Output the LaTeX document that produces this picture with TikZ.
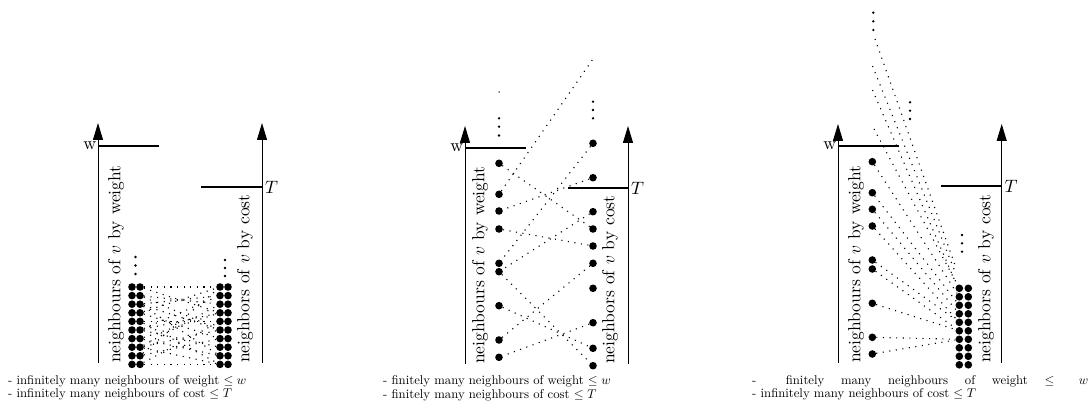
\documentclass[tikz,border=0pt]{standalone}
\usetikzlibrary{arrows.meta}
\begin{document}
\begin{tikzpicture}[x=1pt,y=-1pt,
  axisline/.style={line width=1pt,-{Triangle[length=17pt,width=10pt]}},
  levelbar/.style={line width=2.6pt},
  bigdot/.style={circle,fill=black,inner sep=0pt,minimum size=7.6pt},
  tinydot/.style={circle,fill=black,inner sep=0pt,minimum size=2.6pt},
  nbedge/.style={line width=1.1pt,dash pattern=on 1.1pt off 5.5pt},
  vlabel/.style={rotate=90,anchor=west,inner sep=0pt},
  caption/.style={anchor=base west,inner sep=0pt}]
\useasboundingbox (0,0) rectangle (1090,414);

% ---------------- Panel 1 ----------------
\draw[axisline] (98,363) -- (98,123);
\draw[axisline] (262,363) -- (262,123);
\draw[levelbar] (98,146) -- (159,146);
\draw[levelbar] (201,187) -- (262,187);
\node[anchor=east,inner sep=1pt] (aw) at (97.5,146) {\scalebox{1.79}{w}};
\node[anchor=west,inner sep=1pt] (aT) at (264,187) {\scalebox{1.79}{$T$}};
\node[vlabel] (awt) at (116,363) {\scalebox{1.75}{neighbours of $v$ by weight}};
\node[vlabel] (act) at (245,363) {\scalebox{1.75}{neighbors of $v$ by cost}};
\foreach \i in {1,...,10} {
  \pgfmathsetmacro\yy{287+8.6*(\i-1)}
  \node[bigdot] (al\i) at (132,\yy) {};
  \node[bigdot] (ar\i) at (140,\yy) {};
  \node[bigdot] (bl\i) at (220,\yy) {};
  \node[bigdot] (br\i) at (228,\yy) {};
}
\foreach \i/\yy in {1/257,2/265.5,3/274} \node[tinydot] (ae\i) at (135.5,\yy) {};
\foreach \i/\yy in {1/260,2/268,3/276} \node[tinydot] (be\i) at (225,\yy) {};
\foreach \a/\b in {1/1,1/4,2/6,2/3,3/9,3/2,4/7,4/1,5/10,5/5,6/2,6/8,7/4,7/9,8/6,8/3,9/1,9/7,10/10,10/5,3/6,6/4,8/10}
  \draw[nbedge] (ar\a) -- (bl\b);
\node[caption] (c1a) at (8,384) {\scalebox{1.27}{- infinitely many neighbours of weight $\leq w$}};
\node[caption] (c1b) at (8,397.5) {\scalebox{1.27}{- infinitely many neighbours of cost $\leq T$}};

% ---------------- Panel 2 ----------------
\draw[axisline] (465,364) -- (465,126);
\draw[axisline] (628,364) -- (628,126);
\draw[levelbar] (465,148) -- (526,148);
\draw[levelbar] (568,188) -- (628,188);
\node[anchor=east,inner sep=1pt] (bw) at (464.5,148) {\scalebox{1.79}{w}};
\node[anchor=west,inner sep=1pt] (bT) at (630,188) {\scalebox{1.79}{$T$}};
\node[vlabel] (bwt) at (480,364) {\scalebox{1.75}{neighbours of $v$ by weight}};
\node[vlabel] (bct) at (610,364) {\scalebox{1.75}{neighbors of $v$ by cost}};
\foreach \i/\yy in {1/163.3,2/194.3,3/211,4/229,5/263.3,6/271.7,7/305.7,8/340,9/357.3}
  \node[bigdot] (ml\i) at (499,\yy) {};
\foreach \i/\yy in {1/143.3,2/177.7,3/211.7,4/229,5/246,6/263.3,7/288.3,8/322.7,9/348.3,10/365.7}
  \node[bigdot] (mr\i) at (593,\yy) {};
\foreach \i/\yy in {1/118.3,2/126.7,3/135.5} \node[tinydot] (mle\i) at (499,\yy) {};
\foreach \i/\yy in {1/101.7,2/110,3/118.3} \node[tinydot] (mre\i) at (593,\yy) {};
\node[circle,fill=black,inner sep=0pt,minimum size=1.5pt] (mtop) at (499,92) {};
\coordinate (mfar) at (593,59);
\draw[nbedge] (ml2) -- (mfar);
\draw[nbedge] (ml1) -- (mr4);
\draw[nbedge] (mr2) -- (ml3);
\draw[nbedge] (ml4) -- (mr5);
\draw[nbedge] (mr1) -- (ml5);
\draw[nbedge] (mr3) -- (ml6);
\draw[nbedge] (ml6) -- (mr10);
\draw[nbedge] (mr6) -- (ml8);
\draw[nbedge] (ml7) -- (mr9);
\draw[nbedge] (mr8) -- (ml9);
\node[caption] (c2a) at (383,384.5) {\scalebox{1.27}{- finitely many neighbours of weight $\leq w$}};
\node[caption] (c2b) at (383,398) {\scalebox{1.27}{- finitely many neighbours of cost $\leq T$}};

% ---------------- Panel 3 ----------------
\draw[axisline] (838,363) -- (838,124);
\draw[axisline] (1001.7,363) -- (1001.7,124);
\draw[levelbar] (838,146) -- (899,146);
\draw[levelbar] (941,186) -- (1001.7,186);
\node[anchor=east,inner sep=1pt] (cw) at (837.5,146) {\scalebox{1.79}{w}};
\node[anchor=west,inner sep=1pt] (cT) at (1003.5,186) {\scalebox{1.79}{$T$}};
\node[vlabel] (cwt) at (856,363) {\scalebox{1.75}{neighbours of $v$ by weight}};
\node[vlabel] (cct) at (986,363) {\scalebox{1.75}{neighbors of $v$ by cost}};
\foreach \i/\yy in {1/161.7,2/192.7,3/209.3,4/226,5/260,6/269,7/303.3,8/337.3,9/354}
  \node[bigdot] (rl\i) at (872.3,\yy) {};
\foreach \i in {1,...,10} {
  \pgfmathsetmacro\yy{288.3+8.5*(\i-1)}
  \node[bigdot] (g\i l) at (959.3,\yy) {};
  \node[bigdot] (g\i r) at (968.3,\yy) {};
}
\foreach \i/\yy in {1/12.7,2/21.3,3/30} \node[tinydot] (rte\i) at (873.3,\yy) {};
\foreach \i/\yy in {1/102.3,2/110.7,3/119} \node[tinydot] (rme\i) at (910,\yy) {};
\foreach \i/\yy in {1/235,2/243.3,3/251.7} \node[tinydot] (rge\i) at (962,\yy) {};
\coordinate (t1) at (875,39);
\coordinate (t2) at (872.5,66);
\coordinate (t3) at (872.5,90);
\coordinate (t4) at (874,129);
\coordinate (e1) at (956,268);
\coordinate (e2) at (956,274);
\coordinate (e3) at (955,281);
\draw[nbedge] (t1) -- (e1);
\draw[nbedge] (t2) -- (e2);
\draw[nbedge] (t3) -- (e3);
\draw[nbedge] (t4) -- (g1l);
\foreach \a/\b in {1/2,2/3,3/4,4/5,5/5,6/6,7/6,8/7,9/7}
  \draw[nbedge] (rl\a) -- (g\b l);
\node[caption] (c3a) at (752,384) {\scalebox{1.27}{\makebox[264.6pt][s]{-\hspace{10pt} finitely many neighbours of weight $\leq w$}}};
\node[caption] (c3b) at (752,397.5) {\scalebox{1.27}{- infinitely many neighbours of cost $\leq T$}};
\end{tikzpicture}
\end{document}
